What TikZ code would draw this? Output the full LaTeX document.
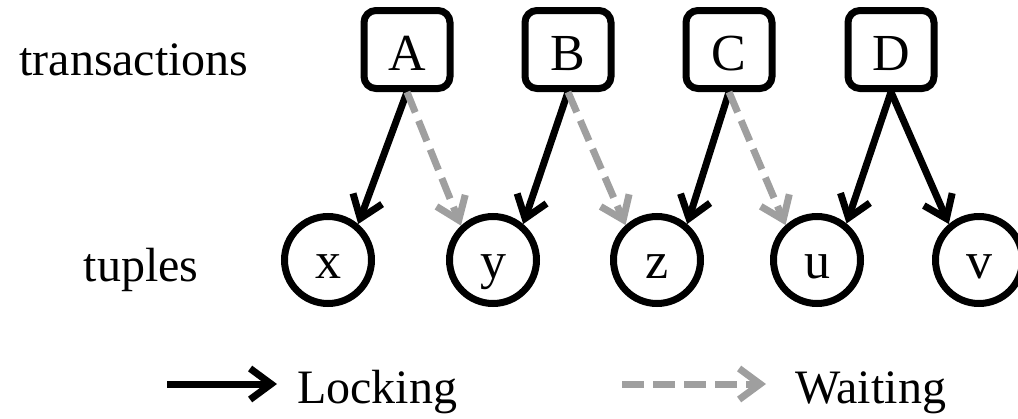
\documentclass[tikz,border=0pt]{standalone}
\usepackage{fontspec}
\setmainfont{Liberation Serif}
\usetikzlibrary{arrows.meta}
\tikzset{
  big/.style={font=\fontsize{48}{58}\selectfont},
  inn/.style={font=\fontsize{52}{62}\selectfont},
  trans/.style={inn, draw, line width=7pt, rounded corners=12pt, rectangle,
    minimum width=86pt, minimum height=78pt, inner sep=0pt, text height=41pt, text depth=0pt},
  tup/.style={inn, draw, line width=7pt, circle, minimum size=87pt, inner sep=0pt,
    text height=36pt, text depth=0pt},
  lock/.style={line width=7pt, black, -{Straight Barb[length=21pt,width=31pt]}},
  wait/.style={line width=7pt, color=gray!75, dash pattern=on 22pt off 9pt,
    -{Straight Barb[length=21pt,width=31pt]}},
  lbl/.style={big, anchor=base}
}
\begin{document}
\begin{tikzpicture}[x=1pt,y=-1pt]
\useasboundingbox (0,0) rectangle (1018,418);
\node[trans] (A) at (407,49.5) {A};
\node[trans] (B) at (568,49.5) {B};
\node[trans] (C) at (729,49.5) {C};
\node[trans] (D) at (891,49.5) {D};
\node[tup] (x) at (328,260) {x};
\node[tup] (y) at (493,260) {y};
\node[tup] (z) at (657,260) {z};
\node[tup] (u) at (817,260) {u};
\node[tup] (v) at (979,260) {v};
\node[lbl] (tr) at (134,75) {transactions};
\node[lbl] (tu) at (141,281) {tuples};
\draw[lock] (A.south) -- (x.50);
\draw[wait] (A.south) -- (y.133);
\draw[lock] (B.south) -- (y.50);
\draw[wait] (B.south) -- (z.132);
\draw[lock] (C.south) -- (z.50);
\draw[wait] (C.south) -- (u.132);
\draw[lock] (D.south) -- (u.51);
\draw[lock] (D.south) -- (v.130);
\coordinate (l1) at (167,384);
\coordinate (l2) at (277,384);
\coordinate (w1) at (622,384);
\coordinate (w2) at (766,384);
\draw[lock] (l1) -- (l2);
\draw[wait] (w1) -- (w2);
\node[big, anchor=base west, inner sep=0pt] (lk) at (297,403) {Locking};
\node[big, anchor=base west, inner sep=0pt] (wt) at (795,403) {Waiting};
\end{tikzpicture}
\end{document}
